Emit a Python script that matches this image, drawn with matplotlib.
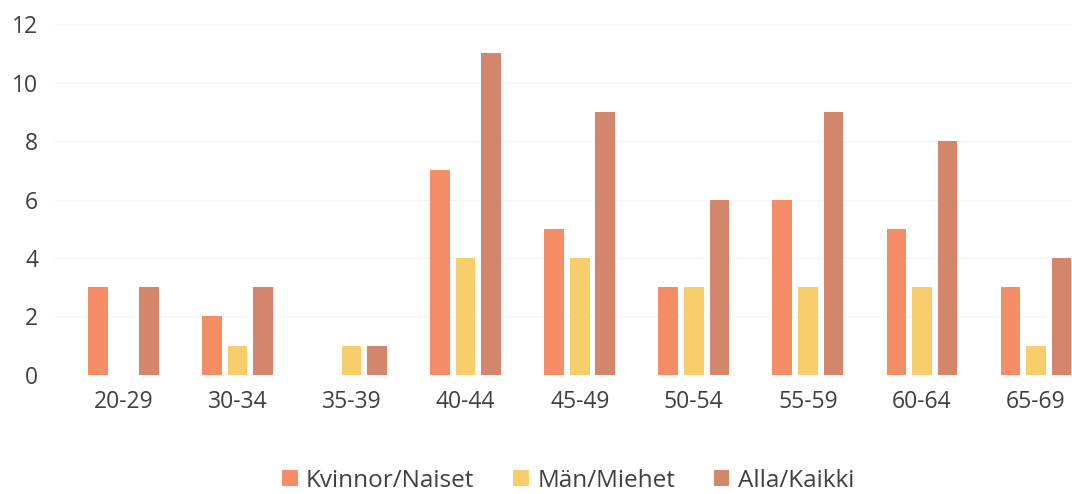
import numpy as np
import matplotlib.pyplot as plt

plt.rcParams['font.family'] = ['Open Sans', 'DejaVu Sans']

categories = ['20-29', '30-34', '35-39', '40-44', '45-49', '50-54', '55-59', '60-64', '65-69']
kvinnor = [3, 2, 0, 7, 5, 3, 6, 5, 3]
man = [0, 1, 1, 4, 4, 3, 3, 3, 1]
alla = [3, 3, 1, 11, 9, 6, 9, 8, 4]

series = [
    ('Kvinnor/Naiset', kvinnor, '#F58D66'),
    ('Män/Miehet', man, '#F8CD6C'),
    ('Alla/Kaikki', alla, '#D4866C'),
]

fig = plt.figure(figsize=(10.72, 4.94), dpi=100)
ax = fig.add_axes([0.0504, 0.2409, 0.9496, 0.7105])

x = np.arange(len(categories))
offset = 0.224
width = 0.172
for i, (name, vals, col) in enumerate(series):
    ax.bar(x + (i - 1) * offset, vals, width=width, color=col, label=name, zorder=2)

ax.set_xlim(-0.609, 8.316)
ax.set_ylim(0, 12)
ax.set_yticks(range(0, 13, 2))
ax.set_xticks(x)
ax.set_xticklabels(categories)
ax.grid(axis='y', color='#F5F5F5', linewidth=0.8, zorder=0)
for s in ax.spines.values():
    s.set_visible(False)
ax.tick_params(length=0, labelsize=16.5, labelcolor='#404040')
ax.tick_params(axis='x', pad=11)
ax.tick_params(axis='y', pad=11.5)

fig.legend(loc='center', bbox_to_anchor=(0.530, 0.027), ncol=3, frameon=False,
           fontsize=17.5, handlelength=0.64, handleheight=0.64, handletextpad=0.34,
           columnspacing=1.6, labelcolor='#404040', borderpad=0, borderaxespad=0)

fig.savefig('out.png', dpi=100)
